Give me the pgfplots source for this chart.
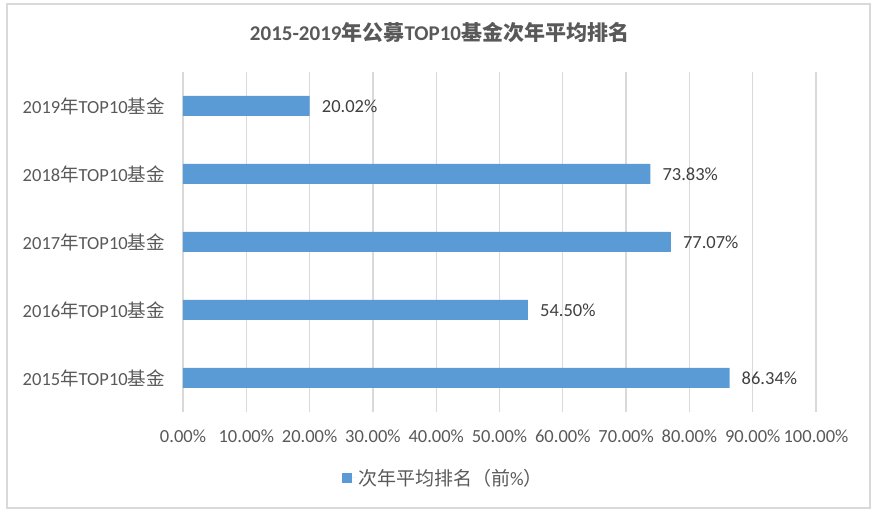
\documentclass[border=0pt]{standalone}
\usepackage{fontspec}
\setmainfont{Carlito}
\newfontfamily\cjk{Noto Sans CJK SC}
\usepackage{pgfplots}
\pgfplotsset{compat=1.18}
\definecolor{barblue}{HTML}{5B9BD5}
\definecolor{txt}{HTML}{595959}
\definecolor{lbl}{HTML}{404040}
\definecolor{grd}{HTML}{D9D9D9}
\begin{document}
\begin{tikzpicture}[x=1pt,y=1pt]
\useasboundingbox (0,0) rectangle (878,513);
\draw[grd, line width=1.3pt] (7,5) rectangle (870,509);
\node[txt, font=\fontsize{21}{24}\selectfont\bfseries] at (439.5,480) {2015-2019{\cjk 年公募}TOP10{\cjk 基金次年平均排名}};
\begin{axis}[
  at={(183pt,101pt)}, anchor=south west,
  scale only axis, width=633pt, height=340pt,
  xbar, bar width=20pt,
  xmin=0, xmax=100, ymin=0.5, ymax=5.5,
  xtick={0,10,...,100}, ytick={1,2,3,4,5},
  yticklabels={2015{\cjk 年}TOP10{\cjk 基金},2016{\cjk 年}TOP10{\cjk 基金},2017{\cjk 年}TOP10{\cjk 基金},2018{\cjk 年}TOP10{\cjk 基金},2019{\cjk 年}TOP10{\cjk 基金}},
  /pgf/number format/assume math mode=true,
  xticklabel={\pgfmathprintnumber[fixed,zerofill,precision=2]{\tick}\%},
  xticklabel style={anchor=base, inner sep=0pt, yshift=-31pt, font=\fontsize{18.5}{20}\selectfont, text=txt},
  yticklabel style={anchor=east, inner sep=0pt, xshift=-18pt, font=\fontsize{18.5}{20}\selectfont, text=txt},
  axis line style={draw=none},
  major tick length=0pt,
  xmajorgrids, ymajorgrids=false,
  major grid style={grd, line width=1.3pt},
  point meta=x,
  nodes near coords={\pgfmathprintnumber[fixed,zerofill,precision=2]{\pgfplotspointmeta}\%},
  nodes near coords style={anchor=west, inner sep=0pt, xshift=12pt, font=\fontsize{18.5}{20}\selectfont, text=lbl},
  legend style={at={(0.4115,-0.194)}, anchor=center, draw=none, fill=none, font=\fontsize{19}{20}\selectfont, text=txt},
  legend image code/.code={\fill[barblue] (0pt,-5pt) rectangle (10pt,5pt); \path (0pt,0pt) -- (14pt,0pt);},
  clip=false,
]
\addplot[fill=barblue, draw=none] coordinates {(86.34,1) (54.50,2) (77.07,3) (73.83,4) (20.02,5)};
\addlegendentry{{\cjk 次年平均排名（前}\%{\cjk ）}}
\end{axis}
\end{tikzpicture}
\end{document}
